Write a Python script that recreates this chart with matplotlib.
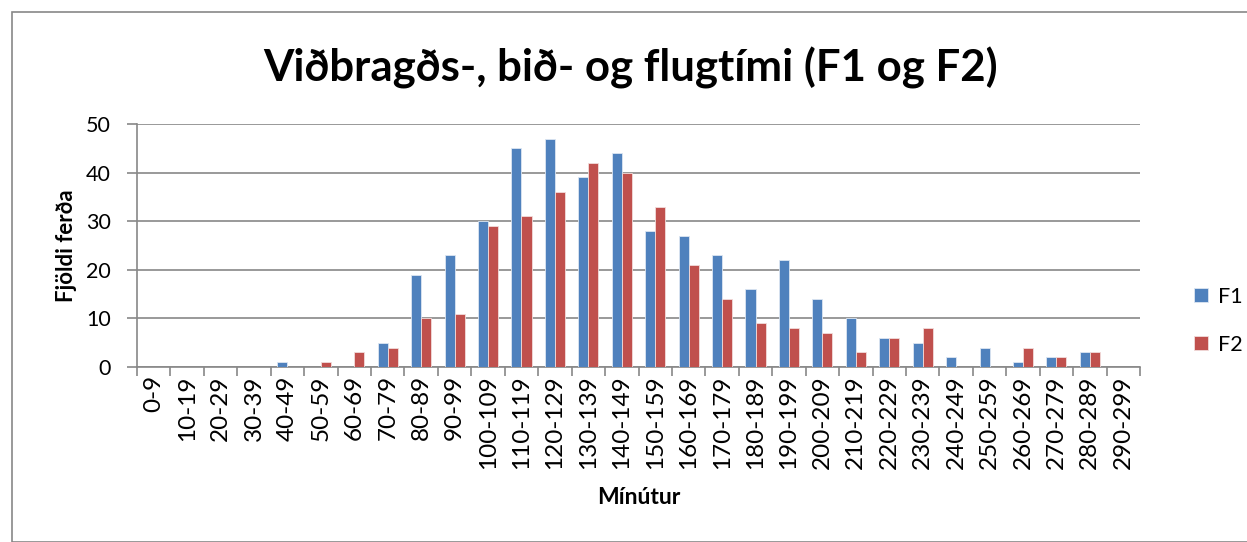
import matplotlib
matplotlib.use("Agg")
import matplotlib.pyplot as plt
import numpy as np
from matplotlib.patches import Rectangle

categories = ["0-9", "10-19", "20-29", "30-39", "40-49", "50-59", "60-69", "70-79",
              "80-89", "90-99", "100-109", "110-119", "120-129", "130-139", "140-149",
              "150-159", "160-169", "170-179", "180-189", "190-199", "200-209",
              "210-219", "220-229", "230-239", "240-249", "250-259", "260-269",
              "270-279", "280-289", "290-299"]
f1 = [0, 0, 0, 0, 1, 0, 0, 5, 19, 23, 30, 45, 47, 39, 44, 28, 27, 23, 16, 22,
      14, 10, 6, 5, 2, 4, 1, 2, 3, 0]
f2 = [0, 0, 0, 0, 0, 1, 3, 4, 10, 11, 29, 31, 36, 42, 40, 33, 21, 14, 9, 8,
      7, 3, 6, 8, 0, 0, 4, 2, 3, 0]

plt.rcParams['font.family'] = ['Lato', 'DejaVu Sans']

fig = plt.figure(figsize=(12.47, 5.42), dpi=100)
fig.patches.append(Rectangle((12/1247, 0), 1.2, 1 - 12/542, transform=fig.transFigure,
                             fill=False, edgecolor='#888888', linewidth=1.2))
ax = fig.add_axes([137/1247, 1 - 367/542, (1140 - 137)/1247, (367 - 124)/542])

x = np.arange(len(categories))
w = 0.3
ax.bar(x - w/2, f1, w, color='#4F81BD', edgecolor='#DCE6F2', linewidth=0.6, label='F1', zorder=3)
ax.bar(x + w/2, f2, w, color='#C0504D', edgecolor='#F2DCDB', linewidth=0.6, label='F2', zorder=3)

ax.set_xlim(-0.5, len(categories) - 0.5)
ax.set_ylim(0, 50)
ax.set_yticks([0, 10, 20, 30, 40, 50])
ax.tick_params(axis='y', labelsize=15.5, length=7, width=1.2, color='#888888', pad=12)
ax.yaxis.grid(True, color='#888888', linewidth=1.2, zorder=0)
ax.set_axisbelow(True)

ax.set_xticks(x)
ax.set_xticklabels(categories, rotation=90, fontsize=17.5)
ax.set_xticks(np.arange(-0.5, len(categories)), minor=True)
ax.tick_params(axis='x', which='major', length=0, pad=6)
ax.tick_params(axis='x', which='minor', length=6.5, color='#888888', width=1.2)

for s in ['top', 'right']:
    ax.spines[s].set_visible(False)
ax.spines['left'].set_color('#888888')
ax.spines['bottom'].set_color('#888888')
ax.spines['left'].set_linewidth(1.2)
ax.spines['bottom'].set_linewidth(1.2)

ax.set_xlabel('Mínútur', fontsize=16.5, fontweight='bold', labelpad=13)
ax.set_ylabel('Fjöldi ferða', fontsize=16, fontweight='bold', labelpad=6)

fig.text(0.506, 1 - 68/542, 'Viðbragðs-, bið- og flugtími (F1 og F2)', ha='center', va='center',
         fontsize=31.5, fontweight='bold')

ax.legend(loc='center left', bbox_to_anchor=(1.035, 0.19), frameon=False, fontsize=15.5,
          handlelength=0.65, handleheight=0.65, labelspacing=1.3, handletextpad=0.45)

fig.savefig('out.png', dpi=100)
